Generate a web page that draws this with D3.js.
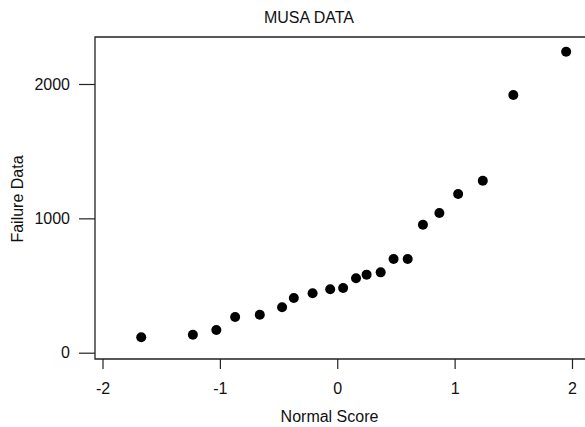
<!DOCTYPE html>
<html>
<head>
<meta charset="utf-8">
<script src="https://cdn.jsdelivr.net/npm/d3@7"></script>
<style>
  body { margin: 0; background: #fff; }
  svg { display: block; font-family: "Liberation Sans", Arial, sans-serif; }
</style>
</head>
<body>
<svg></svg>
<script>
var width = 585;
var height = 427;

// values
var normalScore = [-1.67, -1.23, -1.03, -0.87, -0.66, -0.47, -0.37, -0.21, -0.06, 0.05,
                   0.16, 0.25, 0.37, 0.48, 0.60, 0.73, 0.87, 1.03, 1.24, 1.50, 1.95];
var failureData = [115, 134, 169, 266, 283, 338, 407, 442, 472, 482,
                   554, 581, 598, 697, 697, 953, 1040, 1181, 1280, 1918, 2240];
var xTicks = [-2, -1, 0, 1, 2];
var yTicks = [0, 1000, 2000];

var data = normalScore.map(function(d, i) {
  return { x: d, y: failureData[i] };
});

var frame = { left: 95, top: 37, right: 585, bottom: 359 };

var svg = d3.select("svg")
            .attr("width", width)
            .attr("height", height);

var xScale = d3.scaleLinear()
               .domain([-2, 2])
               .range([102.5, 572]);

var yScale = d3.scaleLinear()
               .domain([0, 2000])
               .range([352.7, 84]);

var fmt = function(d) { return d < 0 ? "-" + Math.abs(d) : String(d); };

// frame lines (top, left, bottom)
svg.append("path")
   .attr("d", "M" + frame.right + "," + frame.top +
              "H" + frame.left + "V" + frame.bottom + "H" + frame.right)
   .attr("fill", "none")
   .attr("stroke", "#222")
   .attr("stroke-width", 1.3);

var xAxis = svg.append("g")
   .attr("transform", "translate(0," + frame.bottom + ")")
   .call(d3.axisBottom(xScale).tickValues(xTicks).tickFormat(fmt)
           .tickSize(10).tickPadding(14));

var yAxis = svg.append("g")
   .attr("transform", "translate(" + frame.left + ",0)")
   .call(d3.axisLeft(yScale).tickValues(yTicks).tickFormat(fmt)
           .tickSize(16).tickPadding(9));

[xAxis, yAxis].forEach(function(g) {
  g.select(".domain").remove();
  g.selectAll(".tick line").attr("stroke", "#222").attr("stroke-width", 1.2);
  g.selectAll(".tick text")
   .attr("fill", "#111")
   .style("font-size", "16px")
   .style("font-family", "'Liberation Sans', Arial, sans-serif");
});

svg.selectAll("circle")
   .data(data)
   .enter()
   .append("circle")
   .attr("cx", function(d) { return xScale(d.x); })
   .attr("cy", function(d) { return yScale(d.y); })
   .attr("r", 5)
   .attr("fill", "#000");

svg.append("text")
   .attr("x", 309)
   .attr("y", 23)
   .attr("text-anchor", "middle")
   .style("font-size", "16px")
   .attr("fill", "#111")
   .text("MUSA DATA");

svg.append("text")
   .attr("x", 329.5)
   .attr("y", 422)
   .attr("text-anchor", "middle")
   .style("font-size", "16px")
   .attr("fill", "#111")
   .text("Normal Score");

svg.append("text")
   .attr("transform", "translate(23,199) rotate(-90)")
   .attr("text-anchor", "middle")
   .style("font-size", "16px")
   .attr("fill", "#111")
   .text("Failure Data");
</script>
</body>
</html>
